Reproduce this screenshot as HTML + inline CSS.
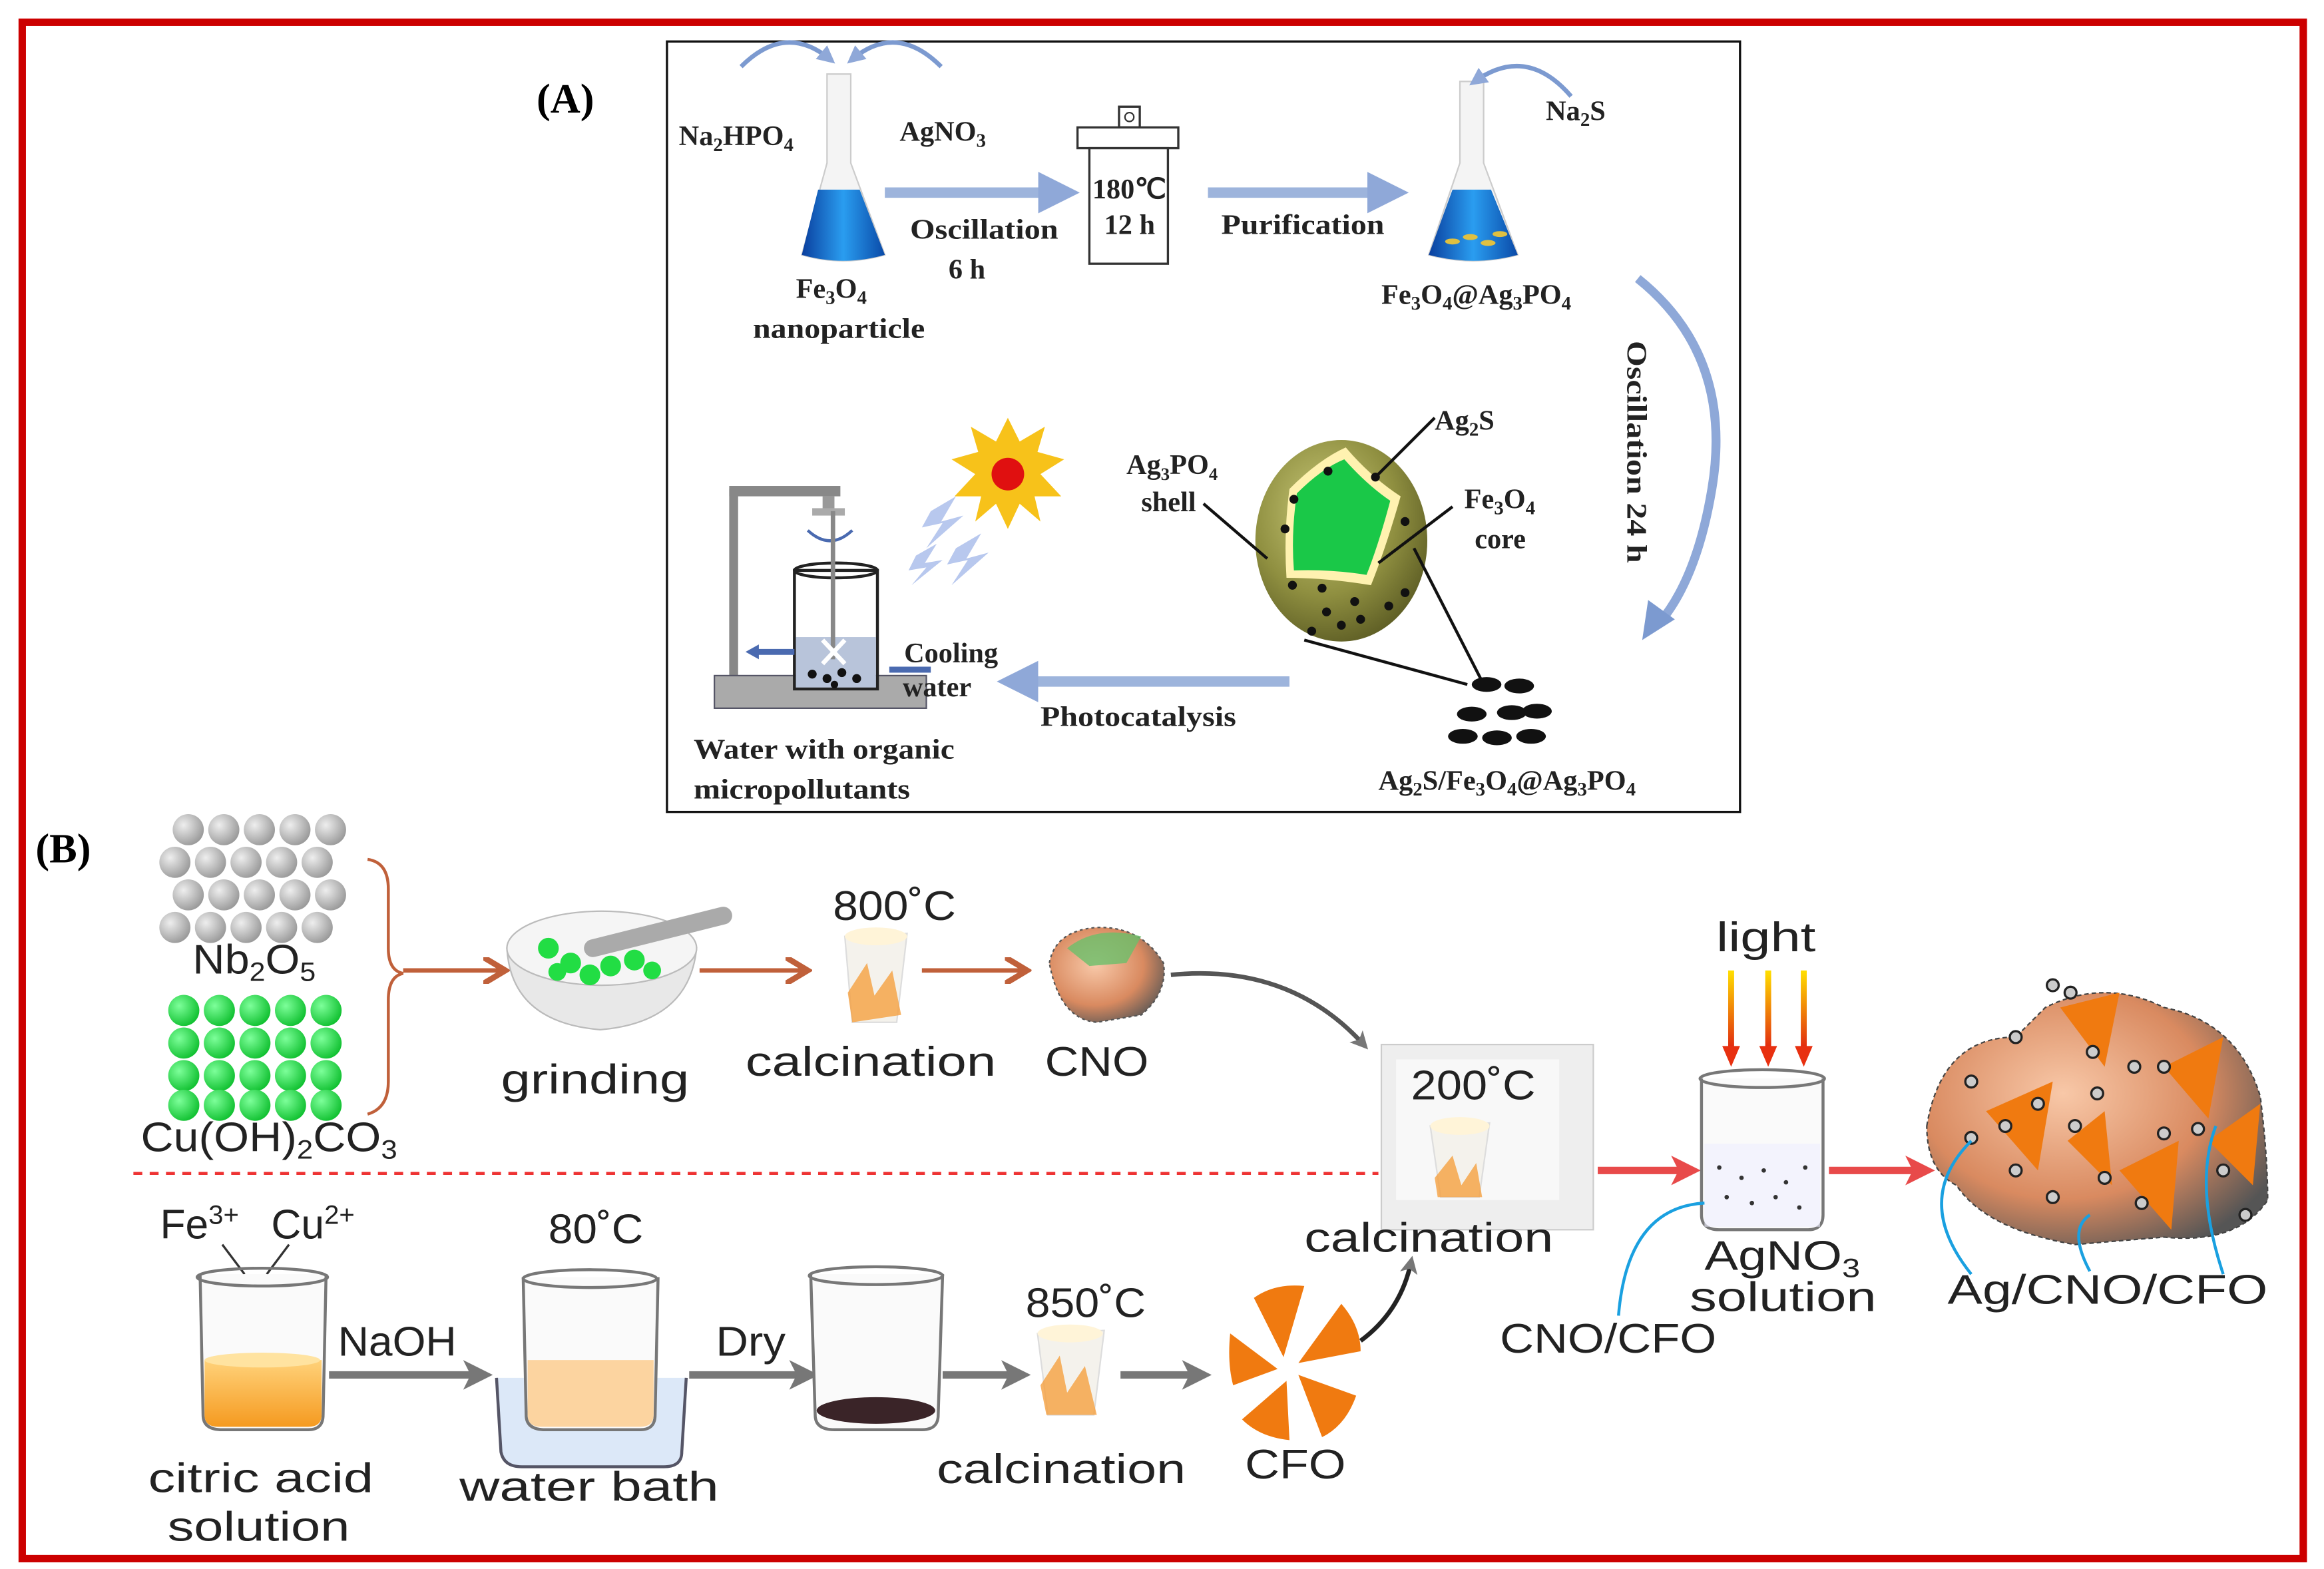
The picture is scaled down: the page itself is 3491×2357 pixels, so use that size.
<!DOCTYPE html>
<html><head><meta charset="utf-8"><style>
html,body{margin:0;padding:0;background:#fff}
svg{display:block}
.s{font-family:"Liberation Serif",serif;font-size:19px;fill:#222;font-weight:bold}
.b{font-family:"Liberation Sans","DejaVu Sans",sans-serif;font-size:28px;fill:#222}
</style></head><body>
<svg width="3491" height="2357" viewBox="0 0 1568 1059" preserveAspectRatio="none" xmlns="http://www.w3.org/2000/svg">
<defs>
<linearGradient id="blue" x1="0" y1="0" x2="1" y2="0"><stop offset="0" stop-color="#0a3f9e"/><stop offset=".5" stop-color="#2a9df0"/><stop offset="1" stop-color="#0a4aa8"/></linearGradient>
<radialGradient id="olive" cx=".4" cy=".35" r=".7"><stop offset="0" stop-color="#c8c878"/><stop offset=".6" stop-color="#8f8f40"/><stop offset="1" stop-color="#5c5c24"/></radialGradient>
<radialGradient id="gs" cx=".35" cy=".35" r=".7"><stop offset="0" stop-color="#eee"/><stop offset="1" stop-color="#999"/></radialGradient>
<radialGradient id="grn" cx=".35" cy=".35" r=".7"><stop offset="0" stop-color="#7dff9a"/><stop offset="1" stop-color="#10c030"/></radialGradient>
<linearGradient id="org" x1="0" y1="0" x2="0" y2="1"><stop offset="0" stop-color="#ffd27a"/><stop offset="1" stop-color="#f59a20"/></linearGradient>
<linearGradient id="lt" gradientUnits="userSpaceOnUse" x1="0" y1="655" x2="0" y2="710"><stop offset="0" stop-color="#ffe000"/><stop offset="1" stop-color="#e02010"/></linearGradient>
<radialGradient id="cu" cx=".4" cy=".4" r=".7"><stop offset="0" stop-color="#f8c8a8"/><stop offset=".6" stop-color="#d98a60"/><stop offset="1" stop-color="#555"/></radialGradient>
<marker id="ab" markerWidth="4" markerHeight="4" refX="2.5" refY="2" orient="auto"><path d="M0,0L4,2L0,4z" fill="#8fa8d8"/></marker>
<marker id="ag" markerWidth="4" markerHeight="4" refX="2.5" refY="2" orient="auto"><path d="M0,0L4,2L0,4L1,2z" fill="#777"/></marker>
<marker id="ar" markerWidth="4" markerHeight="4" refX="2.5" refY="2" orient="auto"><path d="M0,0L4,2L0,4L1,2z" fill="#e84a4a"/></marker>
<marker id="ao" markerWidth="6" markerHeight="6" refX="4" refY="3" orient="auto"><path d="M0,0L5,3L0,6" fill="none" stroke="#c0603a" stroke-width="1.3"/></marker>
</defs>
<rect x="15" y="15" width="1539" height="1037" fill="none" stroke="#cc0000" stroke-width="5"/>
<rect x="450" y="28" width="724" height="520" fill="none" stroke="#111" stroke-width="1.5"/>
<text x="362" y="76" style="font-family:'Liberation Serif',serif;font-size:28px;font-weight:bold">(A)</text>
<text x="24" y="582" style="font-family:'Liberation Serif',serif;font-size:28px;font-weight:bold">(B)</text>
<!-- Panel A -->
<path d="M500,45 Q530,15 560,40" fill="none" stroke="#7c9ad0" stroke-width="3" marker-end="url(#ab)"/>
<path d="M635,45 Q605,15 575,40" fill="none" stroke="#7c9ad0" stroke-width="3" marker-end="url(#ab)"/>
<text class="s" x="458" y="98">Na<tspan font-size="13" dy="4">2</tspan><tspan dy="-4">HPO</tspan><tspan font-size="13" dy="4">4</tspan></text>
<text class="s" x="607" y="95">AgNO<tspan font-size="13" dy="4">3</tspan></text>
<path d="M558,50 L574,50 L574,110 L597,172 Q569,180 541,172 L558,110z" fill="#f4f4f4" stroke="#ccc"/>
<path d="M552,128 L580,128 L597,172 Q569,180 541,172z" fill="url(#blue)"/>
<line x1="597" y1="130" x2="718" y2="130" stroke="#9db4dc" stroke-width="7" marker-end="url(#ab)"/>
<text class="s" x="614" y="161" textLength="100" lengthAdjust="spacingAndGlyphs">Oscillation</text><text class="s" x="640" y="188">6 h</text>
<text class="s" x="537" y="201">Fe<tspan font-size="13" dy="4">3</tspan><tspan dy="-4">O</tspan><tspan font-size="13" dy="4">4</tspan></text>
<text class="s" x="508" y="228" textLength="116" lengthAdjust="spacingAndGlyphs">nanoparticle</text>
<rect x="755" y="72" width="14" height="14" fill="#fff" stroke="#333" stroke-width="1.5"/><circle cx="762" cy="79" r="3" fill="none" stroke="#333"/>
<rect x="727" y="86" width="68" height="14" fill="#fff" stroke="#333" stroke-width="1.5"/>
<rect x="735" y="100" width="53" height="78" fill="#fff" stroke="#333" stroke-width="1.5"/>
<text class="s" x="737" y="134" font-size="17">180℃</text><text class="s" x="745" y="158" font-size="17">12 h</text>
<line x1="815" y1="130" x2="940" y2="130" stroke="#9db4dc" stroke-width="7" marker-end="url(#ab)"/>
<text class="s" x="824" y="158" textLength="110" lengthAdjust="spacingAndGlyphs">Purification</text>
<path d="M985,55 L1001,55 L1001,110 L1024,172 Q994,180 964,172 L985,110z" fill="#f4f4f4" stroke="#ccc"/>
<path d="M980,128 L1006,128 L1024,172 Q994,180 964,172z" fill="url(#blue)"/>
<g fill="#e0c040"><ellipse cx="980" cy="163" rx="5" ry="2"/><ellipse cx="992" cy="160" rx="5" ry="2"/><ellipse cx="1004" cy="164" rx="5" ry="2"/><ellipse cx="1012" cy="158" rx="5" ry="2"/></g>
<path d="M1060,65 Q1030,30 995,55" fill="none" stroke="#7c9ad0" stroke-width="3" marker-end="url(#ab)"/>
<text class="s" x="1043" y="81">Na<tspan font-size="13" dy="4">2</tspan><tspan dy="-4">S</tspan></text>
<text class="s" x="932" y="205">Fe<tspan font-size="13" dy="4">3</tspan><tspan dy="-4">O</tspan><tspan font-size="13" dy="4">4</tspan><tspan dy="-4">@Ag</tspan><tspan font-size="13" dy="4">3</tspan><tspan dy="-4">PO</tspan><tspan font-size="13" dy="4">4</tspan></text>
<path d="M1105,188 Q1170,240 1155,330 Q1145,390 1120,420" fill="none" stroke="#8ea8d8" stroke-width="6"/>
<path d="M1108,432 L1112,405 L1130,418z" fill="#7c9ad0"/>
<text class="s" transform="translate(1098,230) rotate(90)" textLength="150" lengthAdjust="spacingAndGlyphs">Oscillation 24 h</text>
<ellipse cx="905" cy="365" rx="58" ry="68" fill="url(#olive)"/>
<path d="M870,330 Q890,310 908,302 Q925,322 945,335 Q935,370 925,395 Q895,390 868,390 Q866,360 870,330z" fill="#fff2b0"/>
<path d="M875,333 Q892,316 907,310 Q922,327 938,338 Q930,368 922,388 Q897,384 873,385 Q871,360 875,333z" fill="#1ac848"/>
<g fill="#111"><circle cx="928" cy="322" r="3"/><circle cx="873" cy="337" r="3"/><circle cx="867" cy="357" r="3"/><circle cx="896" cy="318" r="3"/><circle cx="948" cy="352" r="3"/><circle cx="948" cy="400" r="3"/><circle cx="872" cy="395" r="3"/><circle cx="892" cy="397" r="3"/><circle cx="914" cy="406" r="3"/><circle cx="937" cy="409" r="3"/><circle cx="895" cy="413" r="3"/><circle cx="918" cy="418" r="3"/><circle cx="885" cy="426" r="3"/><circle cx="905" cy="422" r="3"/></g>
<g stroke="#111" stroke-width="2" fill="none"><line x1="928" y1="322" x2="968" y2="282"/><line x1="930" y1="380" x2="980" y2="342"/><line x1="812" y1="340" x2="855" y2="377"/><line x1="954" y1="370" x2="1000" y2="460"/><line x1="880" y1="432" x2="990" y2="462"/></g>
<g fill="#111"><ellipse cx="1003" cy="462" rx="10" ry="5"/><ellipse cx="1025" cy="463" rx="10" ry="5"/><ellipse cx="993" cy="482" rx="10" ry="5"/><ellipse cx="1020" cy="481" rx="10" ry="5"/><ellipse cx="1037" cy="480" rx="10" ry="5"/><ellipse cx="987" cy="497" rx="10" ry="5"/><ellipse cx="1010" cy="498" rx="10" ry="5"/><ellipse cx="1033" cy="497" rx="10" ry="5"/></g>
<text class="s" x="968" y="290">Ag<tspan font-size="13" dy="4">2</tspan><tspan dy="-4">S</tspan></text>
<text class="s" x="760" y="320" font-size="17">Ag<tspan font-size="12" dy="4">3</tspan><tspan dy="-4">PO</tspan><tspan font-size="12" dy="4">4</tspan></text>
<text class="s" x="770" y="345">shell</text>
<text class="s" x="988" y="343">Fe<tspan font-size="13" dy="4">3</tspan><tspan dy="-4">O</tspan><tspan font-size="13" dy="4">4</tspan></text>
<text class="s" x="995" y="370">core</text>
<text class="s" x="930" y="533">Ag<tspan font-size="13" dy="4">2</tspan><tspan dy="-4">S/Fe</tspan><tspan font-size="13" dy="4">3</tspan><tspan dy="-4">O</tspan><tspan font-size="13" dy="4">4</tspan><tspan dy="-4">@Ag</tspan><tspan font-size="13" dy="4">3</tspan><tspan dy="-4">PO</tspan><tspan font-size="13" dy="4">4</tspan></text>
<line x1="870" y1="460" x2="683" y2="460" stroke="#9db4dc" stroke-width="7" marker-end="url(#ab)"/>
<text class="s" x="702" y="490" textLength="132" lengthAdjust="spacingAndGlyphs">Photocatalysis</text>
<polygon points="680,282 688,298 705,288 700,305 718,310 702,320 716,335 698,335 702,352 688,340 680,357 672,340 658,352 662,335 644,335 658,320 642,310 660,305 655,288 672,298" fill="#f7c21a"/>
<circle cx="680" cy="320" r="11" fill="#e01010"/>
<g fill="#b8c8ee"><path d="M628,345 L645,335 L635,352 L650,348 L625,370 L636,353 L622,356z"/><path d="M645,370 L662,360 L652,377 L667,373 L642,395 L653,378 L639,381z"/><path d="M618,375 L632,367 L624,380 L636,378 L615,395 L625,383 L613,385z"/></g>
<rect x="492" y="330" width="6" height="128" fill="#888"/><rect x="492" y="328" width="75" height="7" fill="#888"/>
<rect x="555" y="335" width="8" height="10" fill="#999"/><rect x="548" y="343" width="22" height="5" fill="#aaa"/>
<rect x="482" y="456" width="143" height="22" fill="#aaa" stroke="#556" stroke-width="1"/>
<path d="M545,358 Q560,372 575,358" fill="none" stroke="#4a6ab0" stroke-width="2"/>
<rect x="536" y="385" width="56" height="80" fill="none" stroke="#222" stroke-width="2"/>
<ellipse cx="564" cy="385" rx="28" ry="5" fill="none" stroke="#222" stroke-width="2"/>
<rect x="537" y="430" width="54" height="34" fill="#b8c4da"/>
<line x1="562" y1="345" x2="562" y2="445" stroke="#888" stroke-width="3"/>
<path d="M555,432 L570,448 M570,432 L555,448" stroke="#fff" stroke-width="3"/>
<g fill="#111"><circle cx="548" cy="455" r="3"/><circle cx="558" cy="458" r="3"/><circle cx="568" cy="454" r="3"/><circle cx="578" cy="458" r="3"/><circle cx="563" cy="462" r="2.5"/></g>
<line x1="536" y1="440" x2="510" y2="440" stroke="#4a6ab0" stroke-width="4"/><path d="M503,440 L512,435 L512,445z" fill="#4a6ab0"/>
<line x1="628" y1="452" x2="600" y2="452" stroke="#4a6ab0" stroke-width="4"/>
<text class="s" x="610" y="447" font-size="17">Cooling</text><text class="s" x="609" y="470" font-size="17">water</text>
<text class="s" x="468" y="512" textLength="176" lengthAdjust="spacingAndGlyphs">Water with organic</text><text class="s" x="468" y="539" textLength="146" lengthAdjust="spacingAndGlyphs">micropollutants</text>
<!-- Panel B -->
<g fill="url(#gs)">
<circle cx="127" cy="560" r="10.5"/><circle cx="151" cy="560" r="10.5"/><circle cx="175" cy="560" r="10.5"/><circle cx="199" cy="560" r="10.5"/><circle cx="223" cy="560" r="10.5"/>
<circle cx="118" cy="582" r="10.5"/><circle cx="142" cy="582" r="10.5"/><circle cx="166" cy="582" r="10.5"/><circle cx="190" cy="582" r="10.5"/><circle cx="214" cy="582" r="10.5"/>
<circle cx="127" cy="604" r="10.5"/><circle cx="151" cy="604" r="10.5"/><circle cx="175" cy="604" r="10.5"/><circle cx="199" cy="604" r="10.5"/><circle cx="223" cy="604" r="10.5"/>
<circle cx="118" cy="626" r="10.5"/><circle cx="142" cy="626" r="10.5"/><circle cx="166" cy="626" r="10.5"/><circle cx="190" cy="626" r="10.5"/><circle cx="214" cy="626" r="10.5"/>
</g>
<text class="b" x="130" y="657" textLength="83" lengthAdjust="spacingAndGlyphs">Nb<tspan font-size="18" dy="5">2</tspan><tspan dy="-5">O</tspan><tspan font-size="18" dy="5">5</tspan></text>
<g fill="url(#grn)">
<circle cx="124" cy="682" r="10.5"/><circle cx="148" cy="682" r="10.5"/><circle cx="172" cy="682" r="10.5"/><circle cx="196" cy="682" r="10.5"/><circle cx="220" cy="682" r="10.5"/>
<circle cx="124" cy="704" r="10.5"/><circle cx="148" cy="704" r="10.5"/><circle cx="172" cy="704" r="10.5"/><circle cx="196" cy="704" r="10.5"/><circle cx="220" cy="704" r="10.5"/>
<circle cx="124" cy="726" r="10.5"/><circle cx="148" cy="726" r="10.5"/><circle cx="172" cy="726" r="10.5"/><circle cx="196" cy="726" r="10.5"/><circle cx="220" cy="726" r="10.5"/>
<circle cx="124" cy="746" r="10.5"/><circle cx="148" cy="746" r="10.5"/><circle cx="172" cy="746" r="10.5"/><circle cx="196" cy="746" r="10.5"/><circle cx="220" cy="746" r="10.5"/>
</g>
<text class="b" x="95" y="777" textLength="173" lengthAdjust="spacingAndGlyphs">Cu(OH)<tspan font-size="18" dy="5">2</tspan><tspan dy="-5">CO</tspan><tspan font-size="18" dy="5">3</tspan></text>
<path d="M248,580 Q262,582 262,600 L262,640 Q262,655 272,657 Q262,659 262,675 L262,730 Q262,748 248,752" fill="none" stroke="#c0603a" stroke-width="2"/>
<line x1="272" y1="655" x2="338" y2="655" stroke="#c0603a" stroke-width="3" marker-end="url(#ao)"/>
<path d="M342,640 Q345,690 405,695 Q465,690 470,640z" fill="#e8e8e8" stroke="#bbb"/>
<ellipse cx="406" cy="640" rx="64" ry="25" fill="#f5f5f5" stroke="#bbb"/>
<line x1="400" y1="640" x2="488" y2="618" stroke="#aaa" stroke-width="12" stroke-linecap="round"/>
<g fill="#22dd44"><circle cx="370" cy="640" r="7"/><circle cx="385" cy="650" r="7"/><circle cx="398" cy="658" r="7"/><circle cx="412" cy="652" r="7"/><circle cx="428" cy="648" r="7"/><circle cx="440" cy="655" r="6"/><circle cx="376" cy="656" r="6"/></g>
<text class="b" x="338" y="738" textLength="127" lengthAdjust="spacingAndGlyphs">grinding</text>
<line x1="472" y1="655" x2="542" y2="655" stroke="#c0603a" stroke-width="3" marker-end="url(#ao)"/>
<text class="b" x="562" y="621" textLength="83" lengthAdjust="spacingAndGlyphs">800˚C</text>
<path d="M570,632 L612,630 L605,690 L575,690z" fill="#f4f2ec" stroke="#ddd"/><ellipse cx="591" cy="632" rx="21" ry="6" fill="#fff4d8"/>
<path d="M572,670 L585,650 L590,672 L602,655 L608,685 L575,690z" fill="#f5a040" opacity=".8"/>
<text class="b" x="503" y="726" textLength="169" lengthAdjust="spacingAndGlyphs">calcination</text>
<line x1="622" y1="655" x2="690" y2="655" stroke="#c0603a" stroke-width="3" marker-end="url(#ao)"/>
<path d="M708,650 Q712,628 740,626 Q770,625 785,650 Q788,670 770,685 L740,690 Q715,688 708,650z" fill="url(#cu)" stroke="#555" stroke-dasharray="2,2"/>
<path d="M720,640 Q740,624 770,632 L760,650 L735,652z" fill="#6abf6a" opacity=".8"/>
<text class="b" x="705" y="726" textLength="70" lengthAdjust="spacingAndGlyphs">CNO</text>
<path d="M790,658 Q870,650 920,705" fill="none" stroke="#555" stroke-width="3" marker-end="url(#ag)"/>
<line x1="90" y1="792" x2="930" y2="792" stroke="#e33" stroke-width="2" stroke-dasharray="6,5"/>
<rect x="932" y="705" width="143" height="125" fill="#eee" stroke="#ccc"/>
<rect x="942" y="715" width="110" height="95" fill="#f8f8f8"/>
<text class="b" x="952" y="742" textLength="84" lengthAdjust="spacingAndGlyphs">200˚C</text>
<path d="M965,760 L1005,758 L998,808 L972,808z" fill="#f4f2ec" stroke="#ddd"/><ellipse cx="985" cy="760" rx="20" ry="6" fill="#fff4d8"/>
<path d="M968,795 L980,780 L986,800 L996,785 L1000,808 L970,808z" fill="#f5a040" opacity=".8"/>
<text class="b" x="880" y="845" textLength="168" lengthAdjust="spacingAndGlyphs">calcination</text>
<line x1="1078" y1="790" x2="1140" y2="790" stroke="#e84a4a" stroke-width="5" marker-end="url(#ar)"/>
<text class="b" x="1158" y="642" textLength="67" lengthAdjust="spacingAndGlyphs">light</text>
<g stroke="url(#lt)" stroke-width="4"><line x1="1168" y1="655" x2="1168" y2="708"/><line x1="1193" y1="655" x2="1193" y2="708"/><line x1="1217" y1="655" x2="1217" y2="708"/></g>
<g fill="#e83010"><path d="M1162,706L1174,706L1168,720z"/><path d="M1187,706L1199,706L1193,720z"/><path d="M1211,706L1223,706L1217,720z"/></g>
<path d="M1148,728 L1148,820 Q1148,830 1160,830 L1220,830 Q1230,830 1230,820 L1230,728" fill="#fafafa" stroke="#777" stroke-width="2"/>
<ellipse cx="1189" cy="728" rx="42" ry="6" fill="none" stroke="#777" stroke-width="2"/>
<rect x="1150" y="772" width="78" height="56" fill="#eef" opacity=".6"/>
<g fill="#333"><circle cx="1160" cy="788" r="1.5"/><circle cx="1175" cy="795" r="1.5"/><circle cx="1190" cy="790" r="1.5"/><circle cx="1205" cy="798" r="1.5"/><circle cx="1218" cy="788" r="1.5"/><circle cx="1165" cy="808" r="1.5"/><circle cx="1182" cy="812" r="1.5"/><circle cx="1198" cy="808" r="1.5"/><circle cx="1214" cy="815" r="1.5"/></g>
<line x1="1234" y1="790" x2="1298" y2="790" stroke="#e84a4a" stroke-width="5" marker-end="url(#ar)"/>
<path d="M1300,760 Q1310,700 1360,700 L1380,680 Q1420,660 1460,680 Q1510,690 1525,740 Q1530,780 1530,810 Q1510,840 1460,835 L1400,840 Q1340,830 1320,800 Q1300,790 1300,760z" fill="url(#cu)" stroke="#444" stroke-dasharray="3,2"/>
<g fill="#f07a10"><path d="M1390,680 L1430,670 L1420,720z"/><path d="M1460,720 L1500,700 L1490,755z"/><path d="M1340,750 L1385,730 L1375,790z"/><path d="M1430,790 L1470,770 L1465,830z"/><path d="M1490,770 L1525,745 L1520,800z"/><path d="M1395,770 L1420,750 L1425,800z"/></g>
<g fill="#ccc" stroke="#222" stroke-width="1.5"><circle cx="1385" cy="665" r="4"/><circle cx="1397" cy="670" r="4"/><circle cx="1360" cy="700" r="4"/><circle cx="1412" cy="710" r="4"/><circle cx="1440" cy="720" r="4"/><circle cx="1460" cy="720" r="4"/><circle cx="1330" cy="768" r="4"/><circle cx="1353" cy="760" r="4"/><circle cx="1375" cy="745" r="4"/><circle cx="1400" cy="760" r="4"/><circle cx="1415" cy="738" r="4"/><circle cx="1460" cy="765" r="4"/><circle cx="1483" cy="762" r="4"/><circle cx="1360" cy="790" r="4"/><circle cx="1385" cy="808" r="4"/><circle cx="1420" cy="795" r="4"/><circle cx="1445" cy="812" r="4"/><circle cx="1500" cy="790" r="4"/><circle cx="1515" cy="820" r="4"/><circle cx="1330" cy="730" r="4"/></g>
<text class="b" x="1150" y="857" textLength="105" lengthAdjust="spacingAndGlyphs">AgNO<tspan font-size="18" dy="5">3</tspan></text>
<text class="b" x="1140" y="885" textLength="126" lengthAdjust="spacingAndGlyphs">solution</text>
<text class="b" x="1012" y="913" textLength="146" lengthAdjust="spacingAndGlyphs">CNO/CFO</text>
<text class="b" x="1314" y="880" textLength="216" lengthAdjust="spacingAndGlyphs">Ag/CNO/CFO</text>
<g fill="none" stroke="#1aa0e0" stroke-width="2"><path d="M1092,888 Q1098,815 1150,812"/><path d="M1330,860 Q1290,810 1330,770"/><path d="M1410,858 Q1395,830 1410,820"/><path d="M1500,860 Q1480,800 1495,760"/></g>
<!-- bottom row -->
<text class="b" x="108" y="836">Fe<tspan font-size="18" dy="-10">3+</tspan></text>
<text class="b" x="183" y="836">Cu<tspan font-size="18" dy="-10">2+</tspan></text>
<g stroke="#333" stroke-width="1.5"><line x1="150" y1="840" x2="165" y2="860"/><line x1="195" y1="840" x2="180" y2="860"/></g>
<path d="M135,860 L137,955 Q137,965 150,965 L208,965 Q218,965 218,955 L220,860" fill="#fafafa" stroke="#777" stroke-width="2"/>
<ellipse cx="177" cy="862" rx="44" ry="6" fill="none" stroke="#777" stroke-width="2"/>
<path d="M138,918 L217,918 L217,955 Q217,963 208,963 L147,963 Q138,963 138,955z" fill="url(#org)"/>
<ellipse cx="177" cy="918" rx="39" ry="5" fill="#ffe3a0"/>
<text class="b" x="228" y="915" textLength="80" lengthAdjust="spacingAndGlyphs">NaOH</text>
<line x1="222" y1="928" x2="325" y2="928" stroke="#777" stroke-width="5" marker-end="url(#ag)"/>
<text class="b" x="370" y="839" textLength="64" lengthAdjust="spacingAndGlyphs">80˚C</text>
<path d="M335,930 L338,980 Q340,990 352,990 L448,990 Q460,990 460,980 L463,930" fill="#dce8f8" stroke="#556" stroke-width="2"/>
<path d="M353,862 L355,955 Q355,965 368,965 L432,965 Q442,965 442,955 L444,862" fill="#fafafa" stroke="#777" stroke-width="2"/>
<ellipse cx="398" cy="863" rx="45" ry="6" fill="none" stroke="#777" stroke-width="2"/>
<path d="M356,918 L441,918 L441,955 Q441,963 432,963 L365,963 Q356,963 356,955z" fill="#fcd4a0"/>
<text class="b" x="483" y="915" textLength="47" lengthAdjust="spacingAndGlyphs">Dry</text>
<line x1="465" y1="928" x2="545" y2="928" stroke="#777" stroke-width="5" marker-end="url(#ag)"/>
<path d="M547,860 L550,955 Q550,965 563,965 L622,965 Q633,965 633,955 L636,860" fill="#fafafa" stroke="#777" stroke-width="2"/>
<ellipse cx="591" cy="861" rx="45" ry="6" fill="none" stroke="#777" stroke-width="2"/>
<ellipse cx="591" cy="952" rx="40" ry="9" fill="#3a2428"/>
<line x1="636" y1="928" x2="688" y2="928" stroke="#777" stroke-width="5" marker-end="url(#ag)"/>
<text class="b" x="692" y="889" textLength="81" lengthAdjust="spacingAndGlyphs">850˚C</text>
<path d="M700,900 L745,898 L738,955 L707,955z" fill="#f4f2ec" stroke="#ddd"/><ellipse cx="722" cy="900" rx="22" ry="6" fill="#fff4d8"/>
<path d="M702,935 L715,915 L720,940 L732,922 L740,955 L706,955z" fill="#f5a040" opacity=".8"/>
<text class="b" x="632" y="1001" textLength="168" lengthAdjust="spacingAndGlyphs">calcination</text>
<line x1="756" y1="928" x2="810" y2="928" stroke="#777" stroke-width="5" marker-end="url(#ag)"/>
<g fill="#f07a10"><path d="M866,916 L880,868 Q860,866 846,876z"/><path d="M876,920 L905,880 Q918,895 918,912z"/><path d="M876,928 L915,942 Q908,962 892,970z"/><path d="M868,932 L870,972 Q850,970 838,958z"/><path d="M862,924 L830,900 Q828,920 832,935z"/></g>
<text class="b" x="840" y="998" textLength="68" lengthAdjust="spacingAndGlyphs">CFO</text>
<path d="M918,905 Q945,885 952,852" fill="none" stroke="#222" stroke-width="3" marker-end="url(#ag)"/>
<text class="b" x="100" y="1007" textLength="152" lengthAdjust="spacingAndGlyphs">citric acid</text>
<text class="b" x="113" y="1040" textLength="123" lengthAdjust="spacingAndGlyphs">solution</text>
<text class="b" x="310" y="1013" textLength="175" lengthAdjust="spacingAndGlyphs">water bath</text>
</svg>
</body></html>
